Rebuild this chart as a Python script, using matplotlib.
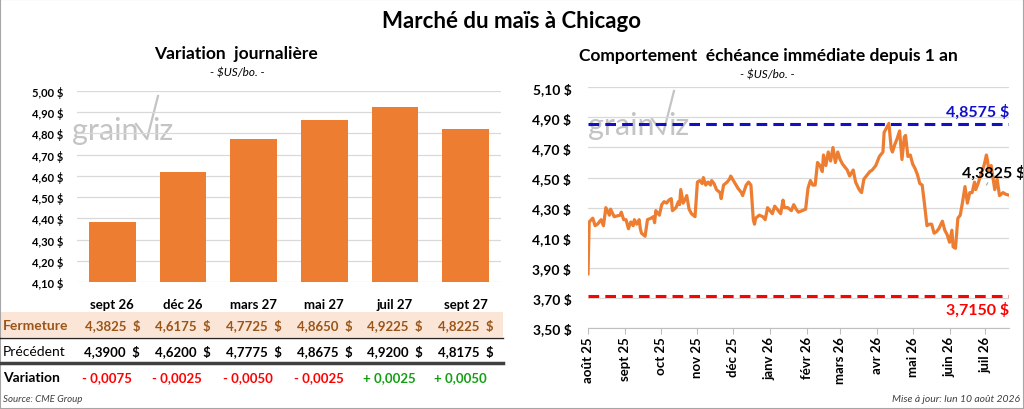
import matplotlib
matplotlib.use("Agg")
import matplotlib.pyplot as plt
import matplotlib.transforms as mtransforms
from matplotlib.lines import Line2D
from matplotlib.patches import Rectangle
import pandas as pd

plt.rcParams["font.family"] = ["Lato", "DejaVu Sans"]

# ---- données : variation journalière ----
echeances = ["sept 26", "déc 26", "mars 27", "mai 27", "juil 27", "sept 27"]
fermeture = [4.3825, 4.6175, 4.7725, 4.8650, 4.9225, 4.8225]
precedent = [4.3900, 4.6200, 4.7775, 4.8675, 4.9200, 4.8175]
variation = [-0.0075, -0.0025, -0.0050, -0.0025, 0.0025, 0.0050]
ticks_gauche = [4.10, 4.20, 4.30, 4.40, 4.50, 4.60, 4.70, 4.80, 4.90, 5.00]

# ---- données : échéance immédiate depuis 1 an (jours depuis le 1er août 2025) ----
jours = [0, 1, 4, 6, 8, 11, 13, 15, 18, 19, 22, 27, 28, 30, 32, 34, 36, 38, 39, 41,
         43, 44, 45, 48, 50, 53, 55, 56, 57, 60, 62, 64, 66, 68, 70, 71, 74, 76, 77, 78,
         80, 82, 83, 85, 87, 90, 92, 94, 96, 97, 99, 101, 103, 104, 106, 108, 111, 112, 114, 117,
         119, 120, 123, 126, 129, 130, 133, 135, 137, 139, 140, 141, 144, 147, 149, 151, 153, 155, 157, 160,
         162, 164, 165, 168, 171, 173, 175, 177, 180, 183, 185, 187, 189, 191, 193, 195, 197, 198, 200, 202,
         204, 206, 208, 210, 212, 214, 216, 218, 220, 223, 225, 228, 230, 232, 234, 237, 239, 242, 245, 248,
         249, 251, 253, 255, 256, 258, 260, 262, 264, 266, 267, 269, 271, 273, 275, 277, 279, 281, 283, 285,
         287, 289, 291, 293, 295, 298, 300, 302, 304, 306, 307, 309, 311, 313, 315, 317, 319, 321, 323, 325,
         326, 328, 330, 333, 335, 336, 337, 339, 341, 342, 344, 346, 349, 351, 354]
prix = [3.86, 4.205, 4.23, 4.18, 4.19, 4.22, 4.18, 4.30, 4.25, 4.29, 4.24, 4.25, 4.27, 4.22, 4.22, 4.16, 4.205, 4.18, 4.22, 4.19,
        4.22, 4.16, 4.13, 4.11, 4.22, 4.23, 4.24, 4.20, 4.28, 4.25, 4.32, 4.34, 4.33, 4.35, 4.36, 4.28, 4.30, 4.34, 4.32, 4.42,
        4.33, 4.36, 4.38, 4.29, 4.26, 4.24, 4.47, 4.48, 4.46, 4.50, 4.45, 4.47, 4.45, 4.48, 4.46, 4.42, 4.40, 4.36, 4.45, 4.47,
        4.49, 4.51, 4.47, 4.43, 4.40, 4.38, 4.45, 4.47, 4.45, 4.22, 4.19, 4.23, 4.25, 4.24, 4.22, 4.30, 4.28, 4.26, 4.31, 4.28,
        4.26, 4.35, 4.30, 4.30, 4.28, 4.32, 4.29, 4.27, 4.28, 4.29, 4.43, 4.48, 4.45, 4.45, 4.60, 4.58, 4.54, 4.65, 4.58, 4.67,
        4.61, 4.70, 4.60, 4.67, 4.62, 4.59, 4.57, 4.55, 4.51, 4.55, 4.47, 4.42, 4.40, 4.49, 4.51, 4.54, 4.55, 4.58, 4.64, 4.67,
        4.80, 4.83, 4.86, 4.69, 4.67, 4.72, 4.76, 4.81, 4.62, 4.77, 4.78, 4.64, 4.65, 4.59, 4.56, 4.52, 4.46, 4.45, 4.32, 4.18,
        4.19, 4.19, 4.13, 4.14, 4.16, 4.21, 4.15, 4.12, 4.07, 4.15, 4.04, 4.03, 4.23, 4.25, 4.34, 4.44, 4.33, 4.40, 4.40, 4.47,
        4.42, 4.46, 4.51, 4.58, 4.65, 4.61, 4.54, 4.58, 4.47, 4.42, 4.49, 4.38, 4.40, 4.39, 4.3825]
mois = ["août 25", "sept 25", "oct 25", "nov 25", "déc 25", "janv 26", "févr 26",
        "mars 26", "avr 26", "mai 26", "juin 26", "juil 26"]
ticks_droite = [3.50, 3.70, 3.90, 4.10, 4.30, 4.50, 4.70, 4.90, 5.10]
haut_annee = 4.8575
bas_annee = 3.7150

ORANGE = "#ED7D31"
GRILLE = "#D9D9D9"
W, H = 1024, 410


def fx(px):
    return px / W


def fy(py):
    return 1 - py / H


def fmt(v, dec=2):
    return f"{v:.{dec}f}".replace(".", ",")


def filigrane(fig, x, y):
    """Logo grainwiz en gris pâle, (x, y) = début de 'grain' sur la ligne de base, en pixels."""
    gris = "#C4C4C4"
    fig.text(fx(x), fy(y), "grain", fontsize=22, color=gris,
             va="baseline", ha="left", zorder=-0.5)
    fig.add_artist(Line2D([fx(x + 64), fx(x + 75), fx(x + 86)],
                          [fy(y - 15), fy(y), fy(y - 43)],
                          transform=fig.transFigure, color=gris, lw=1.6, zorder=-0.5))
    fig.text(fx(x + 80), fy(y), "iz", fontsize=22, color=gris,
             va="baseline", ha="left", zorder=-0.5)


fig = plt.figure(figsize=(W / 100, H / 100), dpi=100)
fig.add_artist(Rectangle((0, 0), 1, 1, transform=fig.transFigure, fill=False,
                         edgecolor="#A6A6A6", lw=1.5))
fig.text(0.5, fy(21), "Marché du maïs à Chicago", ha="center", va="center",
         fontsize=16, fontweight="bold")

# ---------------- panneau gauche ----------------
ax1 = fig.add_axes([fx(77), fy(283), fx(501 - 77), (283 - 92) / H])
ax1.patch.set_alpha(0)
filigrane(fig, 72, 140)
x = list(range(len(echeances)))
ax1.bar(x, [f - ticks_gauche[0] for f in fermeture], bottom=ticks_gauche[0],
        width=0.66, color=ORANGE, zorder=3)
ax1.set_xlim(-0.5, len(echeances) - 0.5)
ax1.set_ylim(ticks_gauche[0], ticks_gauche[-1])
ax1.set_yticks(ticks_gauche, [fmt(t) + " $" for t in ticks_gauche])
ax1.set_xticks([])
ax1.tick_params(axis="y", length=0, labelsize=8, pad=10)
for lab in ax1.get_yticklabels():
    lab.set_fontweight("bold")
ax1.grid(axis="y", color=GRILLE, lw=0.9, zorder=0)
for s in ax1.spines.values():
    s.set_visible(False)
fig.text(fx(236), fy(54), "Variation  journalière", ha="center", va="center",
         fontsize=12.5, fontweight="bold")
fig.text(fx(237), fy(73), "- $US/bo. -", ha="center", va="center",
         fontsize=8.5, style="italic")

# tableau sous le graphique
tr = mtransforms.blended_transform_factory(ax1.transData, fig.transFigure)
fig.add_artist(Rectangle((0, fy(338)), fx(503), (338 - 313) / H,
                         transform=fig.transFigure, color="#FBE5D6", lw=0, zorder=-1))
fig.add_artist(Line2D([0, fx(503)], [fy(338.5)] * 2, transform=fig.transFigure,
                      color="#262626", lw=1))
fig.add_artist(Line2D([0, fx(503)], [fy(364)] * 2, transform=fig.transFigure,
                      color="#404040", lw=2.5))
BRUN = "#9A5519"
fig.text(fx(3), fy(326), "Fermeture", ha="left", va="center", fontsize=10,
         fontweight="bold", color=BRUN)
fig.text(fx(3), fy(352), "Précédent", ha="left", va="center", fontsize=10)
fig.text(fx(3), fy(378), "Variation", ha="left", va="center", fontsize=10,
         fontweight="bold")
for i, nom in enumerate(echeances):
    ax1.text(i, fy(305), nom, transform=tr, ha="center", va="center",
             fontsize=9.5, fontweight="bold")
    ax1.text(i, fy(326), fmt(fermeture[i], 4) + "  $", transform=tr, ha="center",
             va="center", fontsize=9.5, fontweight="bold", color=BRUN)
    ax1.text(i, fy(352), fmt(precedent[i], 4) + "  $", transform=tr, ha="center",
             va="center", fontsize=9.5, fontweight="bold")
    v = variation[i]
    signe = "+ " if v > 0 else "- "
    ax1.text(i - 0.08, fy(378), signe + fmt(abs(v), 4), transform=tr, ha="center",
             va="center", fontsize=9.5, fontweight="bold",
             color="#12A012" if v > 0 else "#FF0000")
fig.text(fx(3), fy(400), "Source: CME Group", ha="left", va="center",
         fontsize=7, style="italic", color="#404040")

# ---------------- panneau droit ----------------
ax2 = fig.add_axes([fx(588), fy(329), fx(1009 - 588), (329 - 88.3) / H])
ax2.patch.set_alpha(0)
filigrane(fig, 588, 135)
debut = pd.Timestamp("2025-08-01")
dates = debut + pd.to_timedelta(jours, unit="D")
ax2.plot(dates, prix, color=ORANGE, lw=2.3, zorder=3)
ax2.axhline(haut_annee, color="#1010C8", lw=2.2, ls=(0, (3.5, 2)), zorder=4)
ax2.axhline(bas_annee, color="#FF0000", lw=2.2, ls=(0, (3.5, 2)), zorder=4)
ax2.set_xlim(dates[0], dates[-1])
ax2.set_ylim(ticks_droite[0], ticks_droite[-1])
ax2.set_yticks(ticks_droite, [fmt(t) + " $" for t in ticks_droite])
ax2.tick_params(axis="y", length=0, labelsize=10, pad=12)
for lab in ax2.get_yticklabels():
    lab.set_fontweight("bold")
ticks_mois = pd.date_range(debut, periods=len(mois), freq="MS")
ax2.set_xticks(ticks_mois, mois, rotation=90)
ax2.tick_params(axis="x", length=4, color="#BFBFBF", labelsize=9.5, pad=2)
for lab in ax2.get_xticklabels():
    lab.set_fontweight("bold")
ax2.grid(axis="y", color=GRILLE, lw=0.9, zorder=0)
for s in ["top", "right", "left"]:
    ax2.spines[s].set_visible(False)
ax2.spines["bottom"].set_color("#BFBFBF")

tr2 = mtransforms.blended_transform_factory(ax2.transAxes, ax2.transData)
ax2.text(1.0, haut_annee + 0.035, fmt(haut_annee, 4) + " $", transform=tr2,
         ha="right", va="bottom", fontsize=11.5, fontweight="bold", color="#1010C8")
ax2.text(1.0, bas_annee - 0.04, fmt(bas_annee, 4) + " $", transform=tr2,
         ha="right", va="top", fontsize=11.5, fontweight="bold", color="#FF0000")
ax2.annotate(fmt(prix[-1], 4) + " $", xy=(dates[-11], 4.45),
             xytext=(dates[-7], 4.535), ha="center", va="center",
             fontsize=11.5, fontweight="bold", annotation_clip=False,
             arrowprops=dict(arrowstyle="-", color="#A6A6A6", lw=0.8,
                             shrinkA=6, shrinkB=0))
fig.text(fx(768), fy(56), "Comportement  échéance immédiate depuis 1 an",
         ha="center", va="center", fontsize=12.5, fontweight="bold")
fig.text(fx(767), fy(75), "- $US/bo. -", ha="center", va="center",
         fontsize=8.5, style="italic")
fig.text(fx(1020), fy(400), "Mise à jour: lun 10 août 2026", ha="right",
         va="center", fontsize=7.5, style="italic", color="#404040")

fig.savefig("out.png", dpi=100)
